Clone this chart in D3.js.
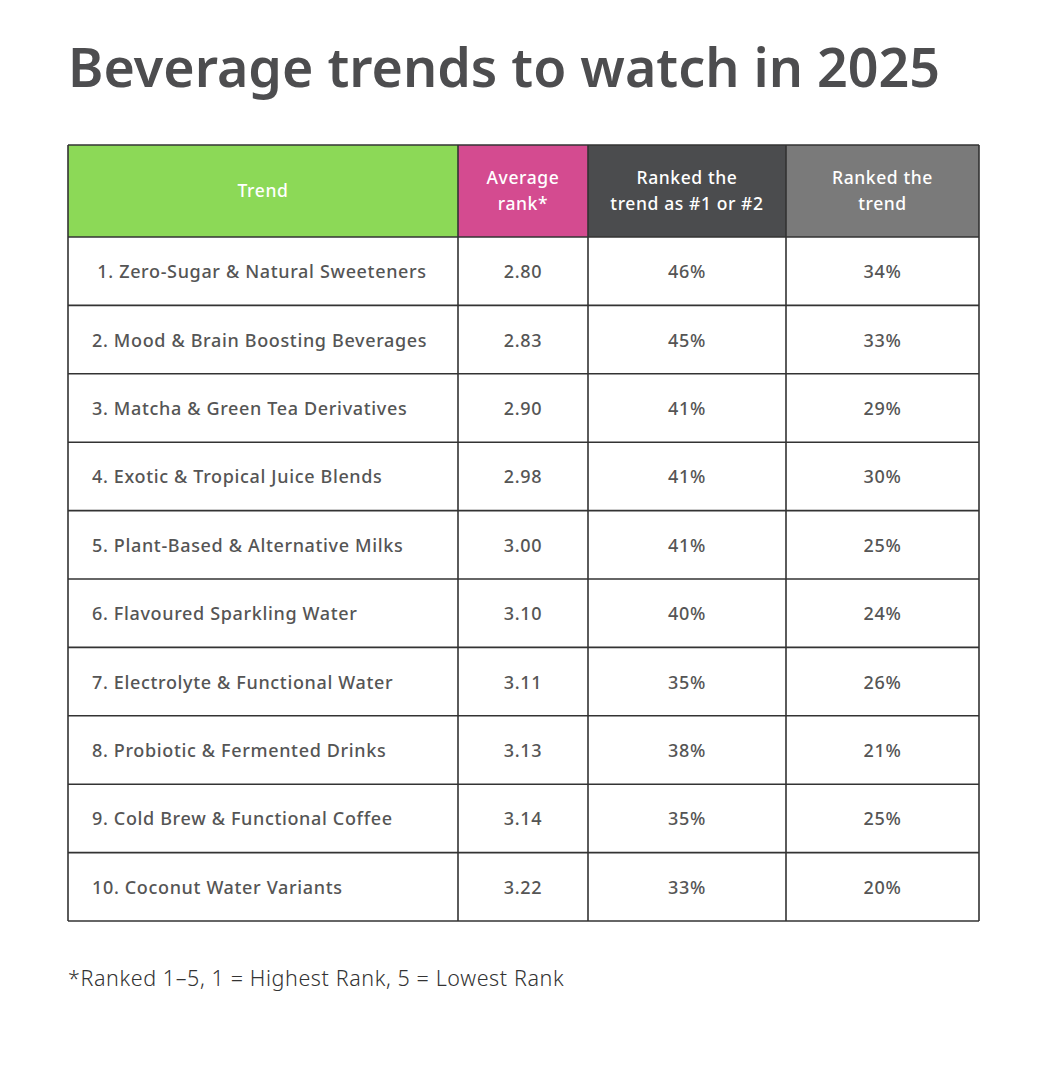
<!DOCTYPE html>
<html>
<head>
  <meta charset="utf-8">
  <title>Beverage trends to watch in 2025</title>
  <style>
    body { margin: 0; background: #fff; }
    svg text { font-family: "Noto Sans", Lato, sans-serif; }
  </style>
</head>
<body>
  <svg id="chart" width="1062" height="1068"></svg>

  <script src="https://d3js.org/d3.v7.min.js"></script>
  <script>
    // table data
    const headers = ["Trend", "Average\nrank*", "Ranked the\ntrend as #1 or #2", "Ranked the\ntrend"];
    const trends = [
      "\u00a01. Zero-Sugar & Natural Sweeteners",
      "2. Mood & Brain Boosting Beverages",
      "3. Matcha & Green Tea Derivatives",
      "4. Exotic & Tropical Juice Blends",
      "5. Plant-Based & Alternative Milks",
      "6. Flavoured Sparkling Water",
      "7. Electrolyte & Functional Water",
      "8. Probiotic & Fermented Drinks",
      "9. Cold Brew & Functional Coffee",
      "10. Coconut Water Variants"
    ];
    const avgRank = [2.80, 2.83, 2.90, 2.98, 3.00, 3.10, 3.11, 3.13, 3.14, 3.22];
    const top2 = [46, 45, 41, 41, 41, 40, 35, 38, 35, 33];
    const rankedTrend = [34, 33, 29, 30, 25, 24, 26, 21, 25, 20];
    const headerColors = ["#8cd957", "#d44b90", "#4b4c4e", "#7a7a7a"];
    const footnote = "*Ranked 1\u20135, 1 = Highest Rank, 5 = Lowest Rank";

    const svg = d3.select("#chart");

    // column edges
    const colEdges = [68, 458, 588, 786, 979];
    const headerTop = 145, headerBottom = 237, tableBottom = 921;

    const y = d3.scaleBand()
      .domain(d3.range(trends.length))
      .range([headerBottom, tableBottom]);

    const title = svg.append("text")
      .attr("x", 68)
      .attr("y", 87)
      .attr("fill", "#4d4d4f")
      .attr("font-size", 56)
      .attr("font-weight", 600)
      .text("Beverage trends to watch in 2025");
    // size the title to the width of the original
    const tw = title.node().getComputedTextLength();
    title.attr("font-size", 56 * 872 / tw);

    // header cells
    const head = svg.append("g");
    headers.forEach((h, i) => {
      const x0 = colEdges[i], x1 = colEdges[i + 1];
      head.append("rect")
        .attr("x", x0).attr("y", headerTop)
        .attr("width", x1 - x0).attr("height", headerBottom - headerTop)
        .attr("fill", headerColors[i]);
      const lines = h.split("\n");
      const t = head.append("text")
        .attr("x", (x0 + x1) / 2)
        .attr("y", (headerTop + headerBottom) / 2 - 1 - (lines.length - 1) * 13)
        .attr("text-anchor", "middle")
        .attr("dominant-baseline", "central")
        .attr("fill", "#fff")
        .attr("font-size", 17.5)
        .attr("font-weight", 500)
        .attr("letter-spacing", 0.6);
      lines.forEach((l, j) => {
        t.append("tspan").attr("x", (x0 + x1) / 2).attr("dy", j ? 26 : 0).text(l);
      });
    });

    // body cells
    const rows = svg.append("g")
      .selectAll("g")
      .data(d3.range(trends.length))
      .join("g")
      .attr("transform", i => `translate(0,${y(i) + y.bandwidth() / 2})`);

    const cellText = (sel, x, anchor, fn) => sel.append("text")
      .attr("x", x)
      .attr("text-anchor", anchor)
      .attr("dominant-baseline", "central")
      .attr("fill", "#555")
      .attr("font-size", 18)
      .attr("font-weight", 500)
      .attr("letter-spacing", 0.65)
      .text(fn);

    cellText(rows, 92, "start", i => trends[i]);
    cellText(rows, (colEdges[1] + colEdges[2]) / 2, "middle", i => avgRank[i].toFixed(2));
    cellText(rows, (colEdges[2] + colEdges[3]) / 2, "middle", i => top2[i] + "%");
    cellText(rows, (colEdges[3] + colEdges[4]) / 2, "middle", i => rankedTrend[i] + "%");

    // grid lines
    const grid = svg.append("g").attr("stroke", "#333").attr("stroke-width", 1.6);
    [headerTop, ...d3.range(trends.length).map(i => y(i)), tableBottom].forEach(v => {
      grid.append("line").attr("x1", colEdges[0]).attr("x2", colEdges[4]).attr("y1", v).attr("y2", v);
    });
    colEdges.forEach(v => {
      grid.append("line").attr("x1", v).attr("x2", v).attr("y1", headerTop).attr("y2", tableBottom);
    });

    svg.append("text")
      .attr("x", 68)
      .attr("y", 986)
      .attr("fill", "#333")
      .attr("font-size", 21.5)
      .attr("font-weight", 300)
      .attr("letter-spacing", 0.6)
      .text(footnote);
  </script>
</body>
</html>
